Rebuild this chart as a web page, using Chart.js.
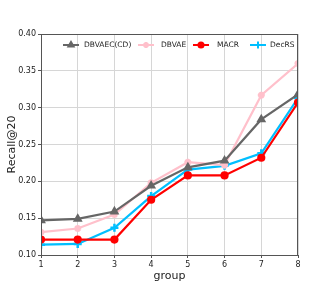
<!DOCTYPE html>
<html>
<head>
<meta charset="utf-8">
<script src="https://cdn.jsdelivr.net/npm/chart.js@4"></script>
<style>
  html, body { margin: 0; padding: 0; background: #fff; }
  #wrap { width: 332px; height: 291px; }
</style>
</head>
<body>
<div id="wrap"><canvas id="myChart" width="332" height="291"></canvas></div>
<script>
const groups = [1, 2, 3, 4, 5, 6, 7, 8];
const dbvaecCD = [0.147, 0.149, 0.159, 0.194, 0.219, 0.228, 0.284, 0.318];
const dbvae = [0.131, 0.136, 0.155, 0.198, 0.226, 0.222, 0.317, 0.360];
const macr = [0.121, 0.121, 0.121, 0.175, 0.208, 0.208, 0.232, 0.307];
const decrs = [0.114, 0.115, 0.137, 0.180, 0.216, 0.221, 0.238, 0.313];
const yTicks = [0.10, 0.15, 0.20, 0.25, 0.30, 0.35, 0.40];

const font = 'DejaVu Sans';

function pts(vals) {
    return vals.map((v, i) => ({ x: groups[i], y: v }));
}

// legend drawn inside the plot, matplotlib style (line + marker)
const innerLegend = {
    id: 'innerLegend',
    afterDraw(chart) {
        const c = chart.ctx;
        const area = chart.chartArea;
        const y = area.top + 11;
        const lineX = [63, 138, 193, 250];
        const textX = [84, 161, 217, 270];
        c.save();
        c.font = '7.5px ' + font;
        c.textBaseline = 'middle';
        chart.data.datasets.forEach((ds, i) => {
            const x0 = lineX[i];
            c.strokeStyle = ds.borderColor;
            c.fillStyle = ds.backgroundColor;
            c.lineWidth = 2;
            c.beginPath();
            c.moveTo(x0, y);
            c.lineTo(x0 + 16, y);
            c.stroke();
            Chart.helpers.drawPoint(c, {
                pointStyle: ds.pointStyle,
                radius: ds.pointRadius * 0.85,
                borderWidth: ds.pointBorderWidth || 1,
                rotation: 0
            }, x0 + 8, y);
            c.fillStyle = '#222';
            c.fillText(ds.label, textX[i], y + 0.5);
        });
        // box around the axes
        c.strokeStyle = '#555';
        c.lineWidth = 1;
        c.strokeRect(area.left + 0.5, area.top + 0.5, area.right - area.left - 1, area.bottom - area.top);
        c.restore();
    }
};

const ctx = document.getElementById('myChart');
new Chart(ctx, {
    type: 'line',
    data: {
        datasets: [
            {
                label: 'DBVAEC(CD)',
                data: pts(dbvaecCD),
                borderColor: '#666666',
                backgroundColor: '#666666',
                pointStyle: 'triangle',
                pointRadius: 3.5,
                borderWidth: 2.2
            },
            {
                label: 'DBVAE',
                data: pts(dbvae),
                borderColor: '#ffc0cb',
                backgroundColor: '#ffc0cb',
                pointStyle: 'star',
                pointRadius: 3.5,
                borderWidth: 2.2
            },
            {
                label: 'MACR',
                data: pts(macr),
                borderColor: '#ff0000',
                backgroundColor: '#ff0000',
                pointStyle: 'circle',
                pointRadius: 3,
                borderWidth: 2.2
            },
            {
                label: 'DecRS',
                data: pts(decrs),
                borderColor: '#00bfff',
                backgroundColor: '#00bfff',
                pointStyle: 'cross',
                pointRadius: 4,
                pointBorderWidth: 2.5,
                borderWidth: 2.2
            }
        ]
    },
    options: {
        responsive: false,
        animation: false,
        layout: { padding: { top: 34, right: 34, left: 6, bottom: 8 } },
        plugins: {
            legend: { display: false },
            tooltip: { enabled: false }
        },
        scales: {
            x: {
                type: 'linear',
                min: 1,
                max: 8,
                afterBuildTicks: (s) => { s.ticks = groups.map(v => ({ value: v })); },
                afterFit: (s) => { s.height = 28; },
                grid: { color: '#d6d6d6', tickLength: 3, tickColor: '#555' },
                border: { color: '#555' },
                ticks: { font: { family: font, size: 8 }, color: '#222', padding: 2, maxRotation: 0 },
                title: { display: true, text: 'group', font: { family: font, size: 11 }, color: '#222', padding: 0 }
            },
            y: {
                min: 0.1,
                max: 0.4,
                afterBuildTicks: (s) => { s.ticks = yTicks.map(v => ({ value: v })); },
                afterFit: (s) => { s.width = 35; },
                grid: { color: '#d6d6d6', tickLength: 3, tickColor: '#555' },
                border: { color: '#555' },
                ticks: { font: { family: font, size: 8 }, color: '#222', padding: 2, callback: (v) => v.toFixed(2) },
                title: { display: true, text: 'Recall@20', font: { family: font, size: 11 }, color: '#222', padding: 0 }
            }
        }
    },
    plugins: [innerLegend]
});
</script>
</body>
</html>
